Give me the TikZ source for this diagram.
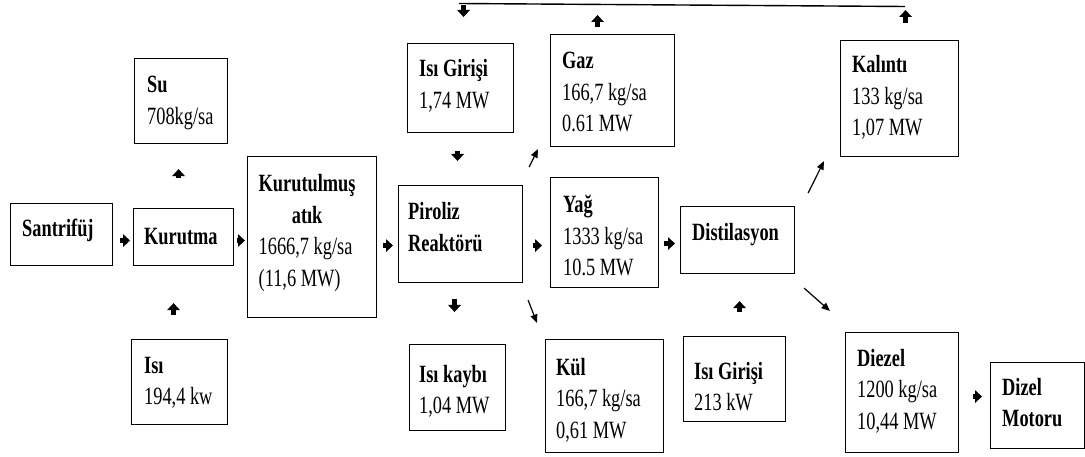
\documentclass[tikz,border=0pt]{standalone}
\usepackage{fontspec}
\setmainfont{Liberation Serif}[FakeStretch=0.74]
\usetikzlibrary{arrows.meta}

% A framed block: name, corners (x1,y1,x2,y2), text offset (pad, first baseline), text lines
\newcommand\flowbox[7]{%
  \node[box, anchor=north west, minimum width={(#4-#2)*1pt}, minimum height={(#5-#3)*1pt}] (#1) at (#2,#3) {};
  \node[boxtext, anchor=base west] (#1-text) at ([shift={(#6)}]#1.north west)
    {\begin{tabular}[t]{@{}l@{}}#7\end{tabular}};
}
\newcommand\ctr[1]{\multicolumn{1}{@{}c@{}}{#1}}

\begin{document}
\begin{tikzpicture}[x=1pt, y=-1pt,
  box/.style={draw=black, line width=1.1pt, inner sep=0pt, rectangle},
  boxtext/.style={inner sep=0pt, font=\fontsize{24.8}{31.5}\selectfont},
  blk/.style={line width=4.5pt, -{Triangle[length=7pt, width=12.5pt]}},
  diag/.style={line width=1.2pt, -{Triangle[length=8.5pt, width=7pt]}},
  feed/.style={line width=1.4pt}]
\useasboundingbox (0,0) rectangle (1085,457);

% drying stage
\flowbox{sant}{10}{203}{112}{265}{12,34}{\textbf{Santrifüj}}
\flowbox{kur}{133}{208}{233}{265}{11,37}{\textbf{Kurutma}}
\flowbox{su}{134}{58}{227}{143}{13,35}{\textbf{Su}\\708kg/sa}
\flowbox{isi}{131}{339}{227}{424}{13,34}{\textbf{Isı}\\194,4 kw}
\flowbox{kat}{247}{156}{376}{317}{11.5,36}{\ctr{\textbf{Kurutulmuş}}\\\ctr{\textbf{atık}}\\1666,7 kg/sa\\(11,6 MW)}

% pyrolysis stage
\flowbox{ig1}{407}{43}{513}{132}{12,34}{\textbf{Isı Girişi}\\1,74 MW}
\flowbox{pir}{398}{185}{522}{282}{10,35}{\textbf{Piroliz}\\\textbf{Reaktörü}}
\flowbox{kayip}{409}{344}{505}{430}{10,38}{\textbf{Isı kaybı}\\1,04 MW}
\flowbox{gaz}{550}{34}{674}{146}{12,35}{\textbf{Gaz}\\166,7 kg/sa\\0.61 MW}
\flowbox{yag}{550}{177}{658}{287}{13,36}{\textbf{Yağ}\\1333 kg/sa\\10.5 MW}
\flowbox{kul}{545}{339}{663}{452}{11,36}{\textbf{Kül}\\166,7 kg/sa\\0,61 MW}

% distillation stage
\flowbox{dist}{680}{206}{794}{273}{12,35}{\textbf{Distilasyon}}
\flowbox{ig2}{683}{336}{785}{421}{11,43}{\textbf{Isı Girişi}\\213 kW}
\flowbox{kal}{840}{40}{958}{156}{12,33}{\textbf{Kalıntı}\\133 kg/sa\\1,07 MW}
\flowbox{diez}{845}{332}{958}{452}{12,34}{\textbf{Diezel}\\1200 kg/sa\\10,44 MW}
\flowbox{motor}{990}{362}{1084}{448}{12,33}{\textbf{Dizel}\\\textbf{Motoru}}

% short block arrows
\draw[blk] ([shift={(7,6)}]sant.east) -- ([shift={(-3,3.5)}]kur.west);
\draw[blk] ([shift={(3,3.5)}]kur.east) -- ([shift={(-2,3.5)}]kat.west);
\draw[blk] ([shift={(-5,-30)}]kur.north) -- ([shift={(-2.5,25)}]su.south);
\draw[blk] ([shift={(-6,-24)}]isi.north) -- ([shift={(-10,37)}]kur.south);
\draw[blk] ([shift={(6,8.5)}]kat.east) -- ([shift={(-5,11.5)}]pir.west);
\draw[blk] ([shift={(-3,18)}]ig1.south) -- ([shift={(-3,-24)}]pir.north);
\draw[blk] ([shift={(10,11.5)}]pir.east) -- ([shift={(-8,13)}]yag.west);
\draw[blk] ([shift={(-6,16)}]pir.south) -- ([shift={(-3,-32)}]kayip.north);
\draw[blk] ([shift={(5,11)}]yag.east) -- ([shift={(-5,3.5)}]dist.west);
\draw[blk] ([shift={(5,-24)}]ig2.north) -- ([shift={(2,27)}]dist.south);
\draw[blk] ([shift={(14,4)}]diez.east) -- ([shift={(-8,-9)}]motor.west);

% slanted product arrows
\draw[diag] ([shift={(6,-18)}]pir.north east) -- ([shift={(-12,2)}]gaz.south west);
\draw[diag] ([shift={(5,17)}]pir.south east) -- ([shift={(-8,-16)}]kul.north west);
\draw[diag] ([shift={(13,-13)}]dist.north east) -- ([shift={(-16,4)}]kal.south west);
\draw[diag] ([shift={(9,14)}]dist.south east) -- ([shift={(-15,-21)}]diez.north west);

% gas and residue fed back as heat to the reactor
\coordinate (fbL) at (459,3.5);
\coordinate (fbR) at (905,6.5);
\draw[feed] (fbR) -- (fbL);
\draw[blk] ([shift={(3,-38)}]ig1.north) -- ([shift={(3,-26)}]ig1.north);
\draw[blk] ([shift={(-15,-7)}]gaz.north) -- ([shift={(-15,-19)}]gaz.north);
\draw[blk] ([shift={(6,-17)}]kal.north) -- ([shift={(6,-30)}]kal.north);
\end{tikzpicture}
\end{document}
